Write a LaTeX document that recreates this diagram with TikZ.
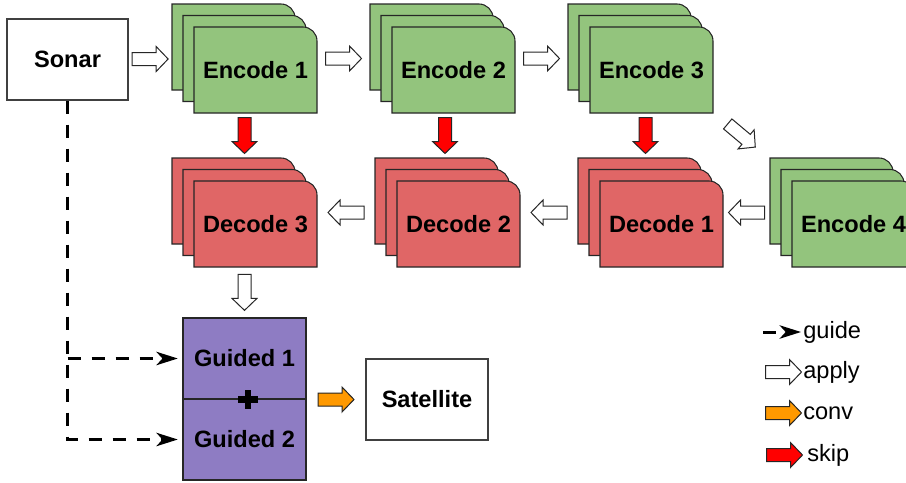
\documentclass[tikz,border=0pt]{standalone}
\usepackage{fontspec}
\setmainfont{Liberation Sans}
\usetikzlibrary{calc,arrows.meta}

\definecolor{encgreen}{HTML}{93C47D}
\definecolor{decred}{HTML}{E06666}
\definecolor{guidepurple}{HTML}{8E7CC3}
\definecolor{convorange}{HTML}{FF9900}
\definecolor{skipred}{HTML}{FF0000}

% one card: top-left corner (#1,#2), fill #3, rounded top-right corner
\newcommand\cardshape[3]{%
  \draw[cardline, fill=#3] (#1,#2+86) -- (#1,#2) -- (#1+109,#2)
    .. controls (#1+116.7,#2) and (#1+123,#2+6.3) .. (#1+123,#2+14)
    -- (#1+123,#2+86) -- cycle;}

% a stack of three cards; (#2,#3) is the top-left corner of the front card
\newcommand\cardstack[5]{%
  \cardshape{#2-22}{#3-23}{#4}
  \cardshape{#2-11}{#3-11.5}{#4}
  \cardshape{#2}{#3}{#4}
  \node[cardtext] (#1) at (#2+61.5,#3+43) {#5};
  \node[stackbox] (#1-all) at (#2+50.5,#3+31.5) {};}

\begin{document}
\begin{tikzpicture}[x=0.75pt,y=-0.75pt,
  every node/.style={font=\fontsize{17.7}{21}\selectfont},
  cardline/.style={draw=black!85, line width=0.8pt},
  cardtext/.style={font=\fontsize{17.7}{21}\selectfont\bfseries, inner sep=0pt},
  stackbox/.style={draw=none, inner sep=0pt, minimum width=108.75pt, minimum height=81.75pt},
  plainbox/.style={draw=black!75, line width=0.8pt, fill=white, inner sep=0pt,
    minimum height=60.75pt, font=\fontsize{17.7}{21}\selectfont\bfseries},
  guidedbox/.style={plainbox, draw=black!85, fill=guidepurple, minimum width=92.25pt},
  legendtext/.style={anchor=west, inner sep=0pt},
  guide/.style={line width=2.25pt, dash pattern=on 9.75pt off 8.25pt,
    -{Stealth[length=16pt,width=10pt,inset=4.5pt]}, shorten >=3.5pt},
  blockarrow/.pic={\path[pic actions] (-18,-6.5) -- (6,-6.5) -- (6,-12.5) -- (18,0)
    -- (6,12.5) -- (6,6.5) -- (-18,6.5) -- cycle;},
  applyarrow/.style={draw=black!85, line width=0.75pt, fill=white},
  skiparrow/.style={draw=black!85, line width=0.75pt, fill=skipred},
  convarrow/.style={draw=black!85, line width=0.75pt, fill=convorange},
]
\useasboundingbox (0,0) rectangle (906,482);

% input and output
\node[plainbox, minimum width=90.75pt] (sonar) at (67.5,59.5) {Sonar};
\node[plainbox, minimum width=91.5pt] (satellite) at (427,399.5) {Satellite};

% encoder stacks
\cardstack{e1}{194}{27}{encgreen}{Encode 1}
\cardstack{e2}{392}{27}{encgreen}{Encode 2}
\cardstack{e3}{590}{27}{encgreen}{Encode 3}
\cardstack{e4}{792}{181}{encgreen}{Encode 4}

% decoder stacks
\cardstack{d3}{194}{181}{decred}{Decode 3}
\cardstack{d2}{397}{181}{decred}{Decode 2}
\cardstack{d1}{600}{181}{decred}{Decode 1}

% guided fusion block
\node[guidedbox] (g1) at (244.5,358.5) {Guided 1};
\node[guidedbox] (g2) at (244.5,439.5) {Guided 2};
\coordinate (plus) at ($(g1.south)+(3.5,0)$);
\draw[line width=5pt] ($(plus)+(-10,0)$) -- ($(plus)+(10,0)$)
                      ($(plus)+(0,-9.5)$) -- ($(plus)+(0,9.5)$);

% apply arrows
\pic[applyarrow] at ($(sonar.east)!0.5!(e1-all.west)$) {blockarrow};
\pic[applyarrow] at ($(e1-all.east)!0.5!(e2-all.west)$) {blockarrow};
\pic[applyarrow] at ($(e2-all.east)!0.5!(e3-all.west)$) {blockarrow};
\pic[applyarrow, rotate=-40] at ($(e3-all.south east)!0.5!(e4-all.north west)$) {blockarrow};
\pic[applyarrow, rotate=180] at ($(e4-all.west)!0.5!(d1-all.east)$) {blockarrow};
\pic[applyarrow, rotate=180] at ($(d1-all.west)!0.5!(d2-all.east)$) {blockarrow};
\pic[applyarrow, rotate=180] at ($(d2-all.west)!0.5!(d3-all.east)$) {blockarrow};
\pic[applyarrow, rotate=-90] at ($(d3-all.south)!0.5!(g1.north)$) {blockarrow};

% skip connections
\pic[skiparrow, rotate=-90] at ($(e1-all.south)!0.5!(d3-all.north)$) {blockarrow};
\pic[skiparrow, rotate=-90] at ($(e2-all.south)!0.5!(d2-all.north)$) {blockarrow};
\pic[skiparrow, rotate=-90] at ($(e3-all.south)!0.5!(d1-all.north)$) {blockarrow};

% conv to output
\pic[convarrow] at ($(g1.south east)!0.5!(satellite.west)$) {blockarrow};

% guidance from sonar
\draw[guide] (sonar.south) |- (g2.west);
\draw[guide] (sonar.south |- g1.west) -- (g1.west);

% legend
\coordinate (lg1) at (763,332);
\coordinate (lg2) at (801,332);
\draw[guide, shorten >=0pt] (lg1) -- (lg2);
\node[legendtext] (lguide) at (803,332) {guide};
\pic[applyarrow] at (783.5,372) {blockarrow};
\node[legendtext] (lapply) at (803,372) {apply};
\pic[convarrow] at (783.5,413) {blockarrow};
\node[legendtext] (lconv) at (803,413) {conv};
\pic[skiparrow] at (784.5,455) {blockarrow};
\node[legendtext] (lskip) at (807,455) {skip};
\end{tikzpicture}
\end{document}
